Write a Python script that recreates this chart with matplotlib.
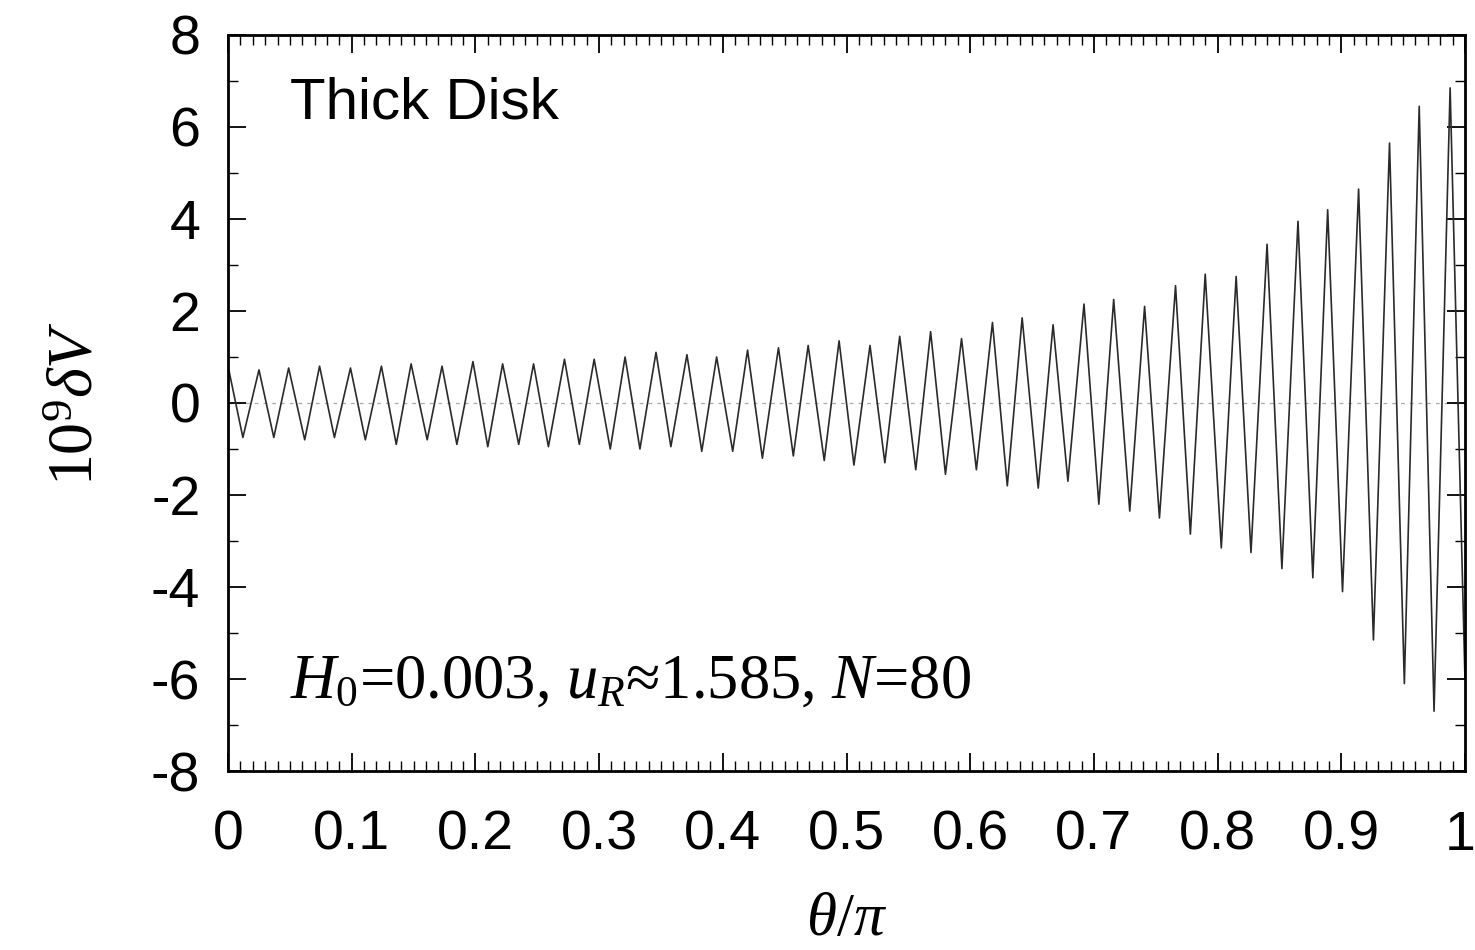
import matplotlib
matplotlib.use("Agg")
import matplotlib.pyplot as plt
from matplotlib.ticker import MultipleLocator, FuncFormatter
from matplotlib.transforms import ScaledTranslation

# extrema of the oscillation (theta/pi, 10^9 dV)
theta = [
    0.000, 0.012, 0.025, 0.037, 0.049, 0.062, 0.074, 0.086, 0.099, 0.111,
    0.124, 0.136, 0.148, 0.161, 0.173, 0.185, 0.198, 0.210, 0.222, 0.235,
    0.247, 0.259, 0.272, 0.284, 0.296, 0.309, 0.321, 0.333, 0.346, 0.358,
    0.371, 0.383, 0.395, 0.408, 0.420, 0.432, 0.445, 0.457, 0.469, 0.482,
    0.494, 0.506, 0.519, 0.531, 0.543, 0.556, 0.568, 0.580, 0.593, 0.605,
    0.618, 0.630, 0.642, 0.655, 0.667, 0.679, 0.692, 0.704, 0.716, 0.729,
    0.741, 0.753, 0.766, 0.778, 0.790, 0.803, 0.815, 0.827, 0.840, 0.852,
    0.865, 0.877, 0.889, 0.901, 0.914, 0.926, 0.939, 0.951, 0.963, 0.975,
    0.988, 1.000,
]
dV = [
    0.80, -0.75, 0.72, -0.75, 0.76, -0.80, 0.80, -0.75, 0.76, -0.80,
    0.80, -0.90, 0.85, -0.80, 0.80, -0.90, 0.90, -0.95, 0.85, -0.90,
    0.85, -0.95, 0.95, -0.90, 0.95, -1.00, 1.00, -1.00, 1.10, -0.95,
    1.05, -1.05, 1.00, -1.05, 1.15, -1.20, 1.20, -1.15, 1.25, -1.25,
    1.35, -1.35, 1.25, -1.30, 1.45, -1.45, 1.55, -1.55, 1.40, -1.45,
    1.75, -1.80, 1.85, -1.85, 1.70, -1.70, 2.15, -2.20, 2.25, -2.35,
    2.10, -2.50, 2.55, -2.85, 2.80, -3.15, 2.75, -3.25, 3.45, -3.60,
    3.95, -3.80, 4.20, -4.10, 4.65, -5.15, 5.65, -6.10, 6.45, -6.70,
    6.85, -6.00,
]

xticks = [0, 0.1, 0.2, 0.3, 0.4, 0.5, 0.6, 0.7, 0.8, 0.9, 1]
yticks = [-8, -6, -4, -2, 0, 2, 4, 6, 8]

plt.rcParams["mathtext.fontset"] = "custom"
plt.rcParams["mathtext.rm"] = "Liberation Serif"
plt.rcParams["mathtext.it"] = "Liberation Serif:italic"

fig = plt.figure(figsize=(14.75, 9.5), dpi=100)
ax = fig.add_axes([0.1546, 0.1884, 0.8386, 0.7748])

ax.axhline(0, color="#aaaaaa", lw=0.9, ls=(0, (3, 4)), zorder=1)
ax.plot(theta, dV, color="#2a2a2a", lw=1.2, zorder=2)

ax.set_xlim(0, 1)
ax.set_ylim(-8, 8)
ax.set_xticks(xticks)
ax.set_yticks(yticks)
ax.xaxis.set_minor_locator(MultipleLocator(0.01))
ax.yaxis.set_minor_locator(MultipleLocator(1))

fmt = FuncFormatter(lambda v, pos: "%g" % v)
ax.xaxis.set_major_formatter(fmt)
ax.yaxis.set_major_formatter(fmt)

ax.tick_params(which="both", direction="in", top=True, right=True)
ax.tick_params(which="major", length=13, width=1.3)
ax.tick_params(which="minor", length=7, width=1.0)
ax.tick_params(axis="x", which="major", pad=28)
ax.tick_params(axis="y", which="major", pad=20)
for lab in ax.get_xticklabels() + ax.get_yticklabels():
    lab.set_fontfamily("Liberation Sans")
    lab.set_fontsize(40)
for sp in ax.spines.values():
    sp.set_linewidth(2)

# keep the "1" at the right end inside the figure
last = ax.get_xticklabels()[-1]
last.set_transform(last.get_transform() + ScaledTranslation(-5 / 100, 0, fig.dpi_scale_trans))

ax.set_xlabel(r"$\theta$/$\pi$", fontfamily="Liberation Serif", fontsize=44, labelpad=22)
ax.set_ylabel(r"10$^9$$\delta$$V$", fontfamily="Liberation Serif", fontsize=46, labelpad=32)

ax.text(0.05, 0.907, "Thick Disk", transform=ax.transAxes, fontfamily="Liberation Sans",
        fontsize=42, va="center", ha="left")
ax.text(0.05, 0.12, r"$H_0$=0.003, $u_R$≈1.585, $N$=80", transform=ax.transAxes,
        fontfamily="Liberation Serif", fontsize=45, va="center", ha="left")

fig.savefig("out.png", dpi=100)
